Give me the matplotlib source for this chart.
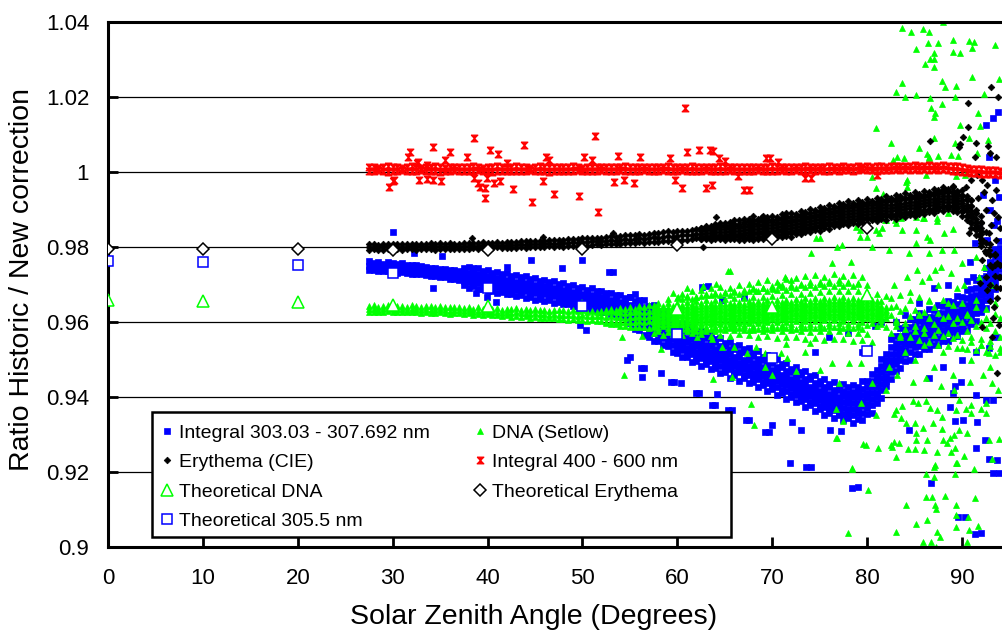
import matplotlib
matplotlib.use("Agg")
import matplotlib.pyplot as plt
from matplotlib.lines import Line2D
from matplotlib.patches import Rectangle
from matplotlib.path import Path
from matplotlib.ticker import FuncFormatter

plt.rcParams["font.family"] = ["Liberation Sans", "DejaVu Sans"]

# half-degree grid of solar zenith angles used for the dense bands
sza = [27.5, 28.0, 28.5, 29.0, 29.5, 30.0, 30.5, 31.0, 31.5, 32.0,
       32.5, 33.0, 33.5, 34.0, 34.5, 35.0, 35.5, 36.0, 36.5, 37.0,
       37.5, 38.0, 38.5, 39.0, 39.5, 40.0, 40.5, 41.0, 41.5, 42.0,
       42.5, 43.0, 43.5, 44.0, 44.5, 45.0, 45.5, 46.0, 46.5, 47.0,
       47.5, 48.0, 48.5, 49.0, 49.5, 50.0, 50.5, 51.0, 51.5, 52.0,
       52.5, 53.0, 53.5, 54.0, 54.5, 55.0, 55.5, 56.0, 56.5, 57.0,
       57.5, 58.0, 58.5, 59.0, 59.5, 60.0, 60.5, 61.0, 61.5, 62.0,
       62.5, 63.0, 63.5, 64.0, 64.5, 65.0, 65.5, 66.0, 66.5, 67.0,
       67.5, 68.0, 68.5, 69.0, 69.5, 70.0, 70.5, 71.0, 71.5, 72.0,
       72.5, 73.0, 73.5, 74.0, 74.5, 75.0, 75.5, 76.0, 76.5, 77.0,
       77.5, 78.0, 78.5, 79.0, 79.5, 80.0, 80.5, 81.0, 81.5, 82.0,
       82.5, 83.0, 83.5, 84.0, 84.5, 85.0, 85.5, 86.0, 86.5, 87.0,
       87.5, 88.0, 88.5, 89.0, 89.5, 90.0, 90.5, 91.0, 91.5, 92.0,
       92.5, 93.0, 93.5, 94.0]

# ---- Integral 303.03 - 307.692 nm (blue squares) ----
blue_mid = [0.9750, 0.9748, 0.9749, 0.9746, 0.9747, 0.9745, 0.9744, 0.9745, 0.9742, 0.9741,
            0.9739, 0.9740, 0.9736, 0.9735, 0.9733, 0.9731, 0.9730, 0.9728, 0.9726, 0.9725,
            0.9722, 0.9720, 0.9719, 0.9716, 0.9712, 0.9711, 0.9708, 0.9706, 0.9704, 0.9702,
            0.9700, 0.9697, 0.9696, 0.9693, 0.9691, 0.9688, 0.9686, 0.9685, 0.9682, 0.9680,
            0.9677, 0.9675, 0.9673, 0.9670, 0.9668, 0.9665, 0.9662, 0.9661, 0.9658, 0.9655,
            0.9652, 0.9649, 0.9646, 0.9642, 0.9639, 0.9635, 0.9628, 0.9620, 0.9612, 0.9605,
            0.9598, 0.9590, 0.9583, 0.9575, 0.9566, 0.9558, 0.9552, 0.9546, 0.9540, 0.9535,
            0.9530, 0.9526, 0.9521, 0.9516, 0.9510, 0.9505, 0.9500, 0.9496, 0.9492, 0.9488,
            0.9484, 0.9479, 0.9474, 0.9469, 0.9464, 0.9459, 0.9454, 0.9448, 0.9443, 0.9437,
            0.9432, 0.9427, 0.9421, 0.9416, 0.9410, 0.9405, 0.9400, 0.9396, 0.9392, 0.9389,
            0.9386, 0.9384, 0.9383, 0.9385, 0.9390, 0.9398, 0.9410, 0.9428, 0.9450, 0.9472,
            0.9500, 0.9516, 0.9530, 0.9542, 0.9552, 0.9561, 0.9568, 0.9574, 0.9580, 0.9585,
            0.9590, 0.9596, 0.9602, 0.9608, 0.9614, 0.9621, 0.9630, 0.9642, 0.9656, 0.9672,
            0.9690, 0.9712, 0.9740, 0.9770]
blue_hi = [0.9762, 0.9758, 0.9761, 0.9756, 0.9759, 0.9757, 0.9754, 0.9757, 0.9752, 0.9753,
           0.9751, 0.9750, 0.9748, 0.9745, 0.9745, 0.9742, 0.9742, 0.9738, 0.9738, 0.9736,
           0.9735, 0.9731, 0.9732, 0.9727, 0.9725, 0.9722, 0.9721, 0.9717, 0.9717, 0.9713,
           0.9713, 0.9708, 0.9709, 0.9704, 0.9704, 0.9699, 0.9699, 0.9696, 0.9695, 0.9691,
           0.9690, 0.9686, 0.9686, 0.9681, 0.9681, 0.9676, 0.9675, 0.9672, 0.9671, 0.9666,
           0.9665, 0.9660, 0.9659, 0.9653, 0.9652, 0.9646, 0.9641, 0.9631, 0.9625, 0.9616,
           0.9612, 0.9602, 0.9597, 0.9587, 0.9580, 0.9570, 0.9566, 0.9558, 0.9554, 0.9547,
           0.9544, 0.9538, 0.9535, 0.9528, 0.9524, 0.9517, 0.9514, 0.9508, 0.9506, 0.9500,
           0.9498, 0.9491, 0.9488, 0.9481, 0.9478, 0.9471, 0.9468, 0.9460, 0.9457, 0.9449,
           0.9446, 0.9439, 0.9435, 0.9428, 0.9424, 0.9417, 0.9414, 0.9408, 0.9406, 0.9401,
           0.9402, 0.9398, 0.9399, 0.9399, 0.9406, 0.9412, 0.9426, 0.9442, 0.9466, 0.9486,
           0.9516, 0.9530, 0.9546, 0.9556, 0.9568, 0.9575, 0.9584, 0.9588, 0.9596, 0.9599,
           0.9606, 0.9610, 0.9618, 0.9622, 0.9630, 0.9635, 0.9646, 0.9656, 0.9672, 0.9686,
           0.9706, 0.9728, 0.9756, 0.9786]
blue_lo = [0.9738, 0.9738, 0.9737, 0.9736, 0.9735, 0.9735, 0.9732, 0.9734, 0.9731, 0.9729,
           0.9728, 0.9728, 0.9726, 0.9723, 0.9723, 0.9719, 0.9720, 0.9716, 0.9716, 0.9713,
           0.9710, 0.9707, 0.9708, 0.9703, 0.9701, 0.9698, 0.9697, 0.9693, 0.9693, 0.9689,
           0.9687, 0.9686, 0.9683, 0.9682, 0.9678, 0.9677, 0.9673, 0.9674, 0.9669, 0.9669,
           0.9665, 0.9662, 0.9662, 0.9657, 0.9657, 0.9652, 0.9651, 0.9648, 0.9647, 0.9642,
           0.9640, 0.9636, 0.9635, 0.9629, 0.9628, 0.9622, 0.9617, 0.9607, 0.9601, 0.9592,
           0.9585, 0.9576, 0.9571, 0.9561, 0.9554, 0.9544, 0.9540, 0.9532, 0.9528, 0.9521,
           0.9518, 0.9512, 0.9509, 0.9502, 0.9498, 0.9491, 0.9488, 0.9482, 0.9480, 0.9474,
           0.9472, 0.9465, 0.9462, 0.9455, 0.9452, 0.9445, 0.9442, 0.9434, 0.9431, 0.9423,
           0.9420, 0.9413, 0.9409, 0.9402, 0.9398, 0.9391, 0.9388, 0.9382, 0.9380, 0.9375,
           0.9371, 0.9368, 0.9369, 0.9369, 0.9376, 0.9382, 0.9396, 0.9412, 0.9436, 0.9456,
           0.9485, 0.9500, 0.9516, 0.9526, 0.9538, 0.9545, 0.9554, 0.9558, 0.9566, 0.9569,
           0.9575, 0.9580, 0.9588, 0.9592, 0.9600, 0.9605, 0.9616, 0.9626, 0.9642, 0.9656,
           0.9675, 0.9696, 0.9725, 0.9754]
# outer rows, from 37.5 deg
blue_hi2 = [0.9745, 0.9748, 0.9743, 0.9744, 0.9736, 0.9739, 0.9732, 0.9734, 0.9729, 0.9731,
            0.9724, 0.9726, 0.9720, 0.9722, 0.9715, 0.9717, 0.9710, 0.9713, 0.9706, 0.9709,
            0.9701, 0.9704, 0.9697, 0.9698, 0.9692, 0.9694, 0.9686, 0.9690, 0.9682, 0.9684,
            0.9677, 0.9678, 0.9671, 0.9672, 0.9664, 0.9666, 0.9656, 0.9650, 0.9640, 0.9636,
            0.9626, 0.9621, 0.9610, 0.9606, 0.9593, 0.9590, 0.9579, 0.9577, 0.9567, 0.9566,
            0.9557, 0.9557, 0.9548, 0.9547, 0.9537, 0.9536, 0.9527, 0.9527, 0.9519, 0.9519,
            0.9511, 0.9510, 0.9501, 0.9500, 0.9491, 0.9490, 0.9481, 0.9479, 0.9470, 0.9468,
            0.9459, 0.9458, 0.9448, 0.9447, 0.9437, 0.9436, 0.9427, 0.9427, 0.9419, 0.9420,
            0.9417, 0.9412, 0.9414, 0.9413, 0.9422, 0.9426, 0.9442, 0.9456, 0.9482, 0.9500,
            0.9534, 0.9544, 0.9564, 0.9570, 0.9586, 0.9589, 0.9602, 0.9602, 0.9614, 0.9613,
            0.9624, 0.9624, 0.9636, 0.9636, 0.9648, 0.9649, 0.9664, 0.9670, 0.9690, 0.9700,
            0.9724, 0.9740, 0.9774, 0.9798]
blue_lo2 = [0.9698, 0.9692, 0.9695, 0.9688, 0.9687, 0.9683, 0.9684, 0.9678, 0.9680, 0.9674,
            0.9676, 0.9669, 0.9672, 0.9665, 0.9667, 0.9660, 0.9662, 0.9657, 0.9658, 0.9652,
            0.9653, 0.9647, 0.9649, 0.9642, 0.9644, 0.9637, 0.9638, 0.9633, 0.9634, 0.9627,
            0.9628, 0.9621, 0.9622, 0.9614, 0.9615, 0.9607, 0.9604, 0.9592, 0.9588, 0.9577,
            0.9572, 0.9562, 0.9557, 0.9547, 0.9540, 0.9530, 0.9526, 0.9518, 0.9514, 0.9507,
            0.9504, 0.9498, 0.9495, 0.9488, 0.9484, 0.9477, 0.9474, 0.9468, 0.9466, 0.9460,
            0.9458, 0.9451, 0.9448, 0.9441, 0.9438, 0.9431, 0.9428, 0.9420, 0.9417, 0.9409,
            0.9406, 0.9399, 0.9395, 0.9388, 0.9384, 0.9377, 0.9374, 0.9368, 0.9366, 0.9361,
            0.9355, 0.9356, 0.9351, 0.9357, 0.9358, 0.9370, 0.9378, 0.9400, 0.9418, 0.9444,
            0.9468, 0.9488, 0.9498, 0.9514, 0.9520, 0.9533, 0.9536, 0.9546, 0.9548, 0.9557,
            0.9558, 0.9568, 0.9570, 0.9580, 0.9582, 0.9593, 0.9598, 0.9614, 0.9624, 0.9644,
            0.9658, 0.9684, 0.9708, 0.9742]
# widest rows, from 55 deg
blue_hi3 = [0.9668, 0.9675, 0.9658, 0.9660, 0.9642,
            0.9645, 0.9628, 0.9630, 0.9615, 0.9612, 0.9598, 0.9598, 0.9585, 0.9586, 0.9575,
            0.9576, 0.9566, 0.9568, 0.9556, 0.9557, 0.9544, 0.9547, 0.9535, 0.9539, 0.9528,
            0.9532, 0.9518, 0.9522, 0.9508, 0.9512, 0.9498, 0.9502, 0.9487, 0.9491, 0.9476,
            0.9480, 0.9466, 0.9469, 0.9455, 0.9458, 0.9444, 0.9448, 0.9435, 0.9440, 0.9428,
            0.9434, 0.9426, 0.9433, 0.9428, 0.9442, 0.9442, 0.9462, 0.9472, 0.9502, 0.9516,
            0.9555, 0.9562, 0.9585, 0.9588, 0.9607, 0.9607, 0.9623, 0.9620, 0.9636, 0.9631,
            0.9645, 0.9642, 0.9657, 0.9654, 0.9669, 0.9667, 0.9685, 0.9688, 0.9711, 0.9718,
            0.9745, 0.9758, 0.9795, 0.9816]
blue_lo3 = [0.9598, 0.9582, 0.9580, 0.9566, 0.9560,
            0.9550, 0.9549, 0.9538, 0.9535, 0.9520, 0.9518, 0.9506, 0.9508, 0.9494, 0.9496,
            0.9484, 0.9488, 0.9474, 0.9478, 0.9463, 0.9467, 0.9452, 0.9458, 0.9444, 0.9450,
            0.9438, 0.9441, 0.9426, 0.9431, 0.9416, 0.9421, 0.9406, 0.9410, 0.9395, 0.9399,
            0.9386, 0.9389, 0.9373, 0.9378, 0.9362, 0.9367, 0.9352, 0.9358, 0.9345, 0.9351,
            0.9340, 0.9343, 0.9332, 0.9342, 0.9338, 0.9356, 0.9358, 0.9385, 0.9398, 0.9430,
            0.9448, 0.9470, 0.9478, 0.9496, 0.9500, 0.9515, 0.9516, 0.9528, 0.9528, 0.9540,
            0.9538, 0.9550, 0.9550, 0.9562, 0.9562, 0.9575, 0.9578, 0.9596, 0.9604, 0.9626,
            0.9638, 0.9666, 0.9688, 0.9724]
blue_scatter = [(30.0, 0.9840), (32.3, 0.9784), (35.2, 0.9776), (34.2, 0.9691), (38.8, 0.9677),
                (39.9, 0.9667), (40.9, 0.9653), (42.1, 0.9747), (44.6, 0.9765), (47.8, 0.9744),
                (50.0, 0.9765), (50.4, 0.9579), (49.7, 0.9592), (53.2, 0.9733), (55.0, 0.9507),
                (56.5, 0.9477), (59.7, 0.9440), (62.3, 0.9411), (64.0, 0.9379), (65.8, 0.9365),
                (67.6, 0.9339), (69.7, 0.9307), (71.9, 0.9224), (74.1, 0.9214), (79.0, 0.9160),
                (63.2, 0.9696), (73.0, 0.9312), (76.1, 0.9312), (77.3, 0.9310), (93.3, 0.9392),
                (93.7, 0.9232), (93.9, 0.9197), (90.1, 0.9339), (90.3, 0.9080), (92.0, 0.9037),
                (73.6, 0.9213), (78.4, 0.9157), (84.4, 0.9312), (86.7, 0.9171), (88.7, 0.9373),
                (89.3, 0.9336), (89.6, 0.9080), (91.4, 0.9035), (91.5, 0.9264), (91.6, 0.9333),
                (92.4, 0.9285), (92.8, 0.9235), (93.3, 0.9197), (89.0, 0.9410), (89.3, 0.9430),
                (89.9, 0.9440), (91.5, 0.9405), (92.5, 0.9392), (54.7, 0.9499), (56.2, 0.9477),
                (56.3, 0.9453), (58.3, 0.9464), (59.3, 0.9440), (60.4, 0.9437), (62.0, 0.9411),
                (63.6, 0.9379), (64.2, 0.9408), (65.3, 0.9365), (67.2, 0.9339), (69.2, 0.9307),
                (70.0, 0.9325), (72.1, 0.9333), (52.8, 0.9733), (62.6, 0.9693), (64.7, 0.9659),
                (67.0, 0.9667), (92.5, 1.0125), (93.3, 1.0145), (93.8, 1.0160), (92.8, 1.0040),
                (93.5, 0.9980), (92.2, 0.9940), (93.0, 0.9900), (93.7, 0.9870), (91.8, 0.9850),
                (92.6, 0.9820), (93.4, 0.9790), (91.4, 0.9810), (90.8, 0.9760), (93.9, 0.9933),
                (93.4, 0.9859), (92.9, 0.9760), (93.6, 0.9720), (91.2, 0.9720), (90.5, 0.9710),
                (88.5, 0.9700), (87.0, 0.9690), (85.5, 0.9650), (84.0, 0.9620), (83.0, 0.9600),
                (86.5, 0.9450), (88.0, 0.9480), (90.0, 0.9500), (91.5, 0.9520), (92.8, 0.9530),
                (93.6, 0.9560), (80.8, 0.9590), (79.5, 0.9520), (81.5, 0.9600), (76.0, 0.9560),
                (78.0, 0.9570), (74.5, 0.9520)]

# ---- DNA (Setlow) (green triangles) ----
green_mid = [0.9634, 0.9636, 0.9633, 0.9635, 0.9637, 0.9634, 0.9636, 0.9635, 0.9633, 0.9636,
             0.9634, 0.9632, 0.9635, 0.9633, 0.9631, 0.9634, 0.9632, 0.9630, 0.9633, 0.9631,
             0.9629, 0.9631, 0.9628, 0.9630, 0.9627, 0.9629, 0.9626, 0.9628, 0.9625, 0.9627,
             0.9624, 0.9626, 0.9623, 0.9625, 0.9622, 0.9623, 0.9621, 0.9622, 0.9620, 0.9621,
             0.9619, 0.9620, 0.9618, 0.9619, 0.9617, 0.9618, 0.9616, 0.9617, 0.9615, 0.9616,
             0.9614, 0.9615, 0.9613, 0.9614, 0.9612, 0.9614, 0.9613, 0.9615, 0.9614, 0.9616,
             0.9615, 0.9617, 0.9616, 0.9618, 0.9617, 0.9619, 0.9618, 0.9620, 0.9619, 0.9621,
             0.9620, 0.9622, 0.9621, 0.9623, 0.9622, 0.9624, 0.9623, 0.9625, 0.9624, 0.9626,
             0.9625, 0.9627, 0.9626, 0.9628, 0.9627, 0.9629, 0.9628, 0.9630, 0.9629, 0.9631,
             0.9630, 0.9632, 0.9631, 0.9633, 0.9632, 0.9634, 0.9633, 0.9635, 0.9634, 0.9635,
             0.9634, 0.9636, 0.9633, 0.9635, 0.9632, 0.9634, 0.9630, 0.9632, 0.9628, 0.9626,
             0.9620, 0.9605, 0.9630, 0.9598, 0.9615, 0.9590, 0.9622, 0.9585, 0.9610, 0.9595,
             0.9580, 0.9612, 0.9570, 0.9598, 0.9565, 0.9600, 0.9575, 0.9560, 0.9590, 0.9555,
             0.9585, 0.9550, 0.9575, 0.9560]
green_hi = [0.9642, 0.9645, 0.9641, 0.9643, 0.9646, 0.9642, 0.9644, 0.9644, 0.9641, 0.9645,
            0.9642, 0.9641, 0.9643, 0.9642, 0.9639, 0.9643, 0.9640, 0.9639, 0.9641, 0.9640,
            0.9637, 0.9640, 0.9636, 0.9639, 0.9635, 0.9638, 0.9634, 0.9637, 0.9633, 0.9636,
            0.9634, 0.9637, 0.9633, 0.9636, 0.9632, 0.9634, 0.9631, 0.9633, 0.9630, 0.9632,
            0.9631, 0.9633, 0.9630, 0.9632, 0.9629, 0.9631, 0.9628, 0.9630, 0.9627, 0.9629,
            0.9627, 0.9629, 0.9626, 0.9628, 0.9625, 0.9628, 0.9626, 0.9629, 0.9627, 0.9630,
            0.9629, 0.9632, 0.9630, 0.9633, 0.9631, 0.9634, 0.9632, 0.9635, 0.9633, 0.9636,
            0.9634, 0.9637, 0.9635, 0.9638, 0.9636, 0.9639, 0.9637, 0.9640, 0.9638, 0.9641,
            0.9639, 0.9642, 0.9640, 0.9643, 0.9641, 0.9644, 0.9642, 0.9645, 0.9643, 0.9646,
            0.9644, 0.9647, 0.9645, 0.9648, 0.9646, 0.9649, 0.9647, 0.9650, 0.9648, 0.9650,
            0.9648, 0.9651, 0.9647, 0.9650, 0.9646, 0.9649, 0.9644, 0.9647, 0.9642, 0.9641,
            0.9665, 0.9642, 0.9672, 0.9638, 0.9660, 0.9632, 0.9668, 0.9628, 0.9655, 0.9640,
            0.9625, 0.9660, 0.9615, 0.9645, 0.9612, 0.9650, 0.9622, 0.9605, 0.9640, 0.9600,
            0.9635, 0.9598, 0.9622, 0.9610]
green_lo = [0.9627, 0.9628, 0.9626, 0.9627, 0.9629, 0.9627, 0.9628, 0.9627, 0.9626, 0.9628,
            0.9626, 0.9625, 0.9627, 0.9625, 0.9624, 0.9626, 0.9625, 0.9622, 0.9625, 0.9623,
            0.9621, 0.9623, 0.9620, 0.9622, 0.9619, 0.9621, 0.9618, 0.9620, 0.9617, 0.9619,
            0.9614, 0.9616, 0.9613, 0.9615, 0.9612, 0.9613, 0.9611, 0.9612, 0.9610, 0.9611,
            0.9607, 0.9608, 0.9606, 0.9607, 0.9605, 0.9606, 0.9604, 0.9605, 0.9603, 0.9604,
            0.9601, 0.9602, 0.9600, 0.9601, 0.9599, 0.9601, 0.9600, 0.9602, 0.9601, 0.9603,
            0.9601, 0.9603, 0.9602, 0.9604, 0.9603, 0.9605, 0.9604, 0.9606, 0.9605, 0.9607,
            0.9606, 0.9608, 0.9607, 0.9609, 0.9608, 0.9610, 0.9609, 0.9611, 0.9610, 0.9612,
            0.9611, 0.9613, 0.9612, 0.9614, 0.9613, 0.9615, 0.9614, 0.9616, 0.9615, 0.9617,
            0.9616, 0.9618, 0.9617, 0.9619, 0.9618, 0.9620, 0.9619, 0.9621, 0.9620, 0.9621,
            0.9620, 0.9622, 0.9619, 0.9621, 0.9618, 0.9620, 0.9616, 0.9618, 0.9614, 0.9612,
            0.9572, 0.9590, 0.9565, 0.9582, 0.9560, 0.9575, 0.9552, 0.9570, 0.9548, 0.9566,
            0.9540, 0.9562, 0.9535, 0.9558, 0.9530, 0.9552, 0.9528, 0.9546, 0.9525, 0.9540,
            0.9520, 0.9536, 0.9512, 0.9530]
# wider rows, 52.5 - 82 deg
green_hi2 = [0.9632, 0.9636, 0.9633, 0.9638, 0.9634, 0.9640, 0.9636, 0.9643, 0.9640, 0.9646,
             0.9645, 0.9650, 0.9643, 0.9651, 0.9644, 0.9652, 0.9645, 0.9654, 0.9647, 0.9655,
             0.9650, 0.9658, 0.9650, 0.9660, 0.9651, 0.9662, 0.9652, 0.9664, 0.9653, 0.9665,
             0.9656, 0.9666, 0.9657, 0.9668, 0.9658, 0.9670, 0.9659, 0.9672, 0.9660, 0.9674,
             0.9662, 0.9676, 0.9663, 0.9678, 0.9664, 0.9680, 0.9665, 0.9682, 0.9666, 0.9682,
             0.9668, 0.9684, 0.9665, 0.9682, 0.9662, 0.9680, 0.9658, 0.9676, 0.9655, 0.9670]
green_lo2 = [0.9597, 0.9594, 0.9594, 0.9590, 0.9590, 0.9587, 0.9588, 0.9586, 0.9587, 0.9584,
             0.9588, 0.9584, 0.9590, 0.9585, 0.9591, 0.9586, 0.9592, 0.9587, 0.9593, 0.9588,
             0.9592, 0.9586, 0.9594, 0.9588, 0.9595, 0.9590, 0.9596, 0.9591, 0.9597, 0.9593,
             0.9597, 0.9590, 0.9598, 0.9591, 0.9599, 0.9592, 0.9600, 0.9593, 0.9601, 0.9594,
             0.9602, 0.9594, 0.9603, 0.9595, 0.9604, 0.9596, 0.9605, 0.9597, 0.9606, 0.9597,
             0.9604, 0.9596, 0.9603, 0.9594, 0.9601, 0.9592, 0.9598, 0.9590, 0.9596, 0.9588]
# widest rows (59 - 80 deg) and fill rows (57.5 - 82 deg), tapered ends
green_hi3 = [0.9662, 0.9678, 0.9665, 0.9675, 0.9670, 0.9684, 0.9668,
             0.9685, 0.9672, 0.9690, 0.9676, 0.9694, 0.9680, 0.9692, 0.9684, 0.9700, 0.9686,
             0.9702, 0.9688, 0.9706, 0.9692, 0.9712, 0.9695, 0.9708, 0.9698, 0.9716, 0.9700,
             0.9718, 0.9702, 0.9722, 0.9706, 0.9725, 0.9708, 0.9720, 0.9710, 0.9728, 0.9712,
             0.9722, 0.9708, 0.9726, 0.9705, 0.9720, 0.9700]
green_lo3 = [0.9570, 0.9576, 0.9566, 0.9574, 0.9568, 0.9578, 0.9565, 0.9575, 0.9570, 0.9577,
             0.9568, 0.9577, 0.9563, 0.9576, 0.9566, 0.9579, 0.9562, 0.9578, 0.9568, 0.9580,
             0.9565, 0.9578, 0.9560, 0.9576, 0.9562, 0.9580, 0.9558, 0.9577, 0.9561, 0.9579,
             0.9560, 0.9576, 0.9556, 0.9574, 0.9558, 0.9577, 0.9552, 0.9575, 0.9556, 0.9576,
             0.9555, 0.9572, 0.9550, 0.9570, 0.9553, 0.9568, 0.9548]
green_fa = [0.9622, 0.9624, 0.9623, 0.9625, 0.9624, 0.9626, 0.9625, 0.9627, 0.9626, 0.9628,
            0.9627, 0.9629, 0.9628, 0.9630, 0.9629, 0.9631, 0.9630, 0.9632, 0.9631, 0.9633,
            0.9632, 0.9634, 0.9633, 0.9635, 0.9634, 0.9636, 0.9635, 0.9637, 0.9636, 0.9638,
            0.9637, 0.9639, 0.9638, 0.9640, 0.9639, 0.9641, 0.9640, 0.9642, 0.9641, 0.9642,
            0.9641, 0.9643, 0.9640, 0.9642, 0.9639, 0.9641, 0.9637, 0.9639, 0.9635, 0.9633]
green_fb = [0.9608, 0.9610, 0.9609, 0.9611, 0.9610, 0.9612, 0.9611, 0.9613, 0.9612, 0.9614,
            0.9613, 0.9615, 0.9614, 0.9616, 0.9615, 0.9617, 0.9616, 0.9618, 0.9617, 0.9619,
            0.9618, 0.9620, 0.9619, 0.9621, 0.9620, 0.9622, 0.9621, 0.9623, 0.9622, 0.9624,
            0.9623, 0.9625, 0.9624, 0.9626, 0.9625, 0.9627, 0.9626, 0.9628, 0.9627, 0.9628,
            0.9627, 0.9629, 0.9626, 0.9628, 0.9625, 0.9627, 0.9623, 0.9625, 0.9621, 0.9619]
green_fc = [0.9637, 0.9640, 0.9637, 0.9641, 0.9638, 0.9642, 0.9639, 0.9643, 0.9640, 0.9644,
            0.9642, 0.9645, 0.9642, 0.9646, 0.9643, 0.9647, 0.9644, 0.9648, 0.9645, 0.9649,
            0.9647, 0.9650, 0.9647, 0.9651, 0.9648, 0.9652, 0.9649, 0.9653, 0.9650, 0.9654,
            0.9652, 0.9655, 0.9652, 0.9656, 0.9653, 0.9657, 0.9654, 0.9658, 0.9655, 0.9658,
            0.9656, 0.9659, 0.9654, 0.9658, 0.9653, 0.9657, 0.9651, 0.9655]
green_fd = [0.9593, 0.9595, 0.9594, 0.9596, 0.9595, 0.9597, 0.9596, 0.9598, 0.9597, 0.9599,
            0.9598, 0.9600, 0.9599, 0.9601, 0.9600, 0.9602, 0.9601, 0.9603, 0.9602, 0.9604,
            0.9603, 0.9605, 0.9604, 0.9606, 0.9605, 0.9607, 0.9606, 0.9608, 0.9607, 0.9609,
            0.9608, 0.9610, 0.9609, 0.9611, 0.9610, 0.9612, 0.9611, 0.9613, 0.9612, 0.9613,
            0.9612, 0.9614, 0.9611, 0.9613, 0.9610, 0.9612, 0.9608, 0.9610, 0.9606]
# upper fill 60.5 - 79 deg, lower fill 59.5 - 79.5 deg
green_fe = [0.9661, 0.9667, 0.9662, 0.9668,
            0.9670, 0.9676, 0.9671, 0.9677, 0.9672, 0.9678, 0.9673, 0.9679, 0.9674, 0.9680,
            0.9682, 0.9690, 0.9683, 0.9691, 0.9684, 0.9692, 0.9685, 0.9693, 0.9686, 0.9694,
            0.9692, 0.9699, 0.9693, 0.9700, 0.9694, 0.9702, 0.9695, 0.9703, 0.9696, 0.9703,
            0.9696, 0.9703, 0.9695, 0.9702]
green_ff = [0.9580, 0.9584, 0.9581, 0.9585, 0.9582, 0.9586,
            0.9580, 0.9584, 0.9581, 0.9585, 0.9582, 0.9586, 0.9583, 0.9587, 0.9584, 0.9588,
            0.9580, 0.9584, 0.9581, 0.9585, 0.9582, 0.9586, 0.9583, 0.9587, 0.9584, 0.9588,
            0.9582, 0.9586, 0.9583, 0.9587, 0.9584, 0.9588, 0.9585, 0.9589, 0.9586, 0.9588,
            0.9584, 0.9588, 0.9583, 0.9587, 0.9582]
green_scatter = [(83.7, 1.0384), (84.6, 1.0373), (85.9, 1.0381), (86.5, 1.0373), (88.0, 1.0400),
                 (86.4, 1.0344), (87.5, 1.0344), (85.1, 1.0328), (87.0, 1.0317), (86.6, 1.0301),
                 (87.1, 1.0301), (86.1, 1.0288), (87.1, 1.0280), (89.0, 1.0352), (89.0, 1.0320),
                 (89.8, 1.0317), (90.7, 1.0349), (91.3, 1.0347), (91.1, 1.0331), (93.5, 1.0339),
                 (91.1, 1.0253), (87.9, 1.0243), (88.2, 1.0227), (89.4, 1.0229), (83.7, 1.0237),
                 (83.0, 1.0213), (84.0, 1.0200), (85.2, 1.0205), (86.6, 1.0197), (87.9, 1.0181),
                 (89.3, 1.0200), (92.3, 1.0208), (93.9, 1.0248), (86.7, 1.0171), (87.2, 1.0157),
                 (87.0, 1.0147), (91.7, 1.0157), (80.9, 1.0117), (89.8, 1.0125), (91.9, 1.0123),
                 (82.5, 1.0077), (85.5, 1.0064), (87.0, 1.0091), (89.3, 1.0077), (90.7, 1.0091),
                 (92.7, 1.0085), (86.3, 1.0048), (86.5, 1.0040), (87.5, 1.0043), (88.8, 1.0045),
                 (89.6, 1.0043), (91.6, 1.0051), (83.2, 1.0040), (83.9, 1.0037), (82.7, 1.0032),
                 (80.5, 0.9987), (86.2, 0.9992), (89.4, 0.9989), (90.3, 0.9992), (84.1, 0.9973),
                 (84.2, 0.9960), (80.9, 0.9957), (81.7, 0.9941), (78.6, 0.9915), (78.8, 0.9853),
                 (79.2, 0.9827), (81.9, 0.9872), (83.0, 0.9864), (83.6, 0.9877), (83.7, 0.9845),
                 (81.3, 0.9837), (85.2, 0.9845), (85.9, 0.9877), (87.4, 0.9869), (88.1, 0.9837),
                 (86.6, 0.9819), (89.0, 0.9848), (84.2, 0.9979), (86.5, 1.0037), (87.4, 0.9877),
                 (86.0, 0.9877), (82.0, 0.9872), (80.9, 0.9845), (79.2, 0.9845), (76.3, 0.9757),
                 (74.1, 0.9784), (74.6, 0.9824), (76.8, 0.9800), (80.5, 0.9800), (82.3, 0.9792),
                 (84.4, 0.9784), (86.5, 0.9784), (87.9, 0.9792), (85.2, 0.9810), (86.3, 0.9827),
                 (89.2, 0.9792), (91.5, 0.9773), (86.5, 0.9720), (87.8, 0.9747), (85.3, 0.9739),
                 (90.0, 0.9757), (92.3, 0.9747), (75.0, 0.9824), (77.4, 0.9805), (78.3, 0.9760),
                 (80.0, 0.9827), (81.6, 0.9851), (82.9, 0.9872), (85.2, 0.9880), (88.5, 0.9890),
                 (65.6, 0.9736), (65.3, 0.9736), (64.1, 0.9701), (61.0, 0.9691), (62.7, 0.9696),
                 (60.1, 0.9667), (68.3, 0.9683), (70.1, 0.9688), (71.3, 0.9720), (72.0, 0.9712),
                 (70.7, 0.9699),
                 (82.5, 0.9640), (83.0, 0.9600), (83.5, 0.9560), (84.0, 0.9520), (84.5, 0.9680),
                 (85.0, 0.9500), (85.5, 0.9620), (86.0, 0.9540), (86.5, 0.9660), (87.0, 0.9480),
                 (87.5, 0.9700), (88.0, 0.9520), (88.5, 0.9650), (89.0, 0.9460), (89.5, 0.9690),
                 (90.0, 0.9530), (90.5, 0.9620), (91.0, 0.9500), (91.5, 0.9660), (92.0, 0.9540),
                 (92.5, 0.9610), (93.0, 0.9480), (93.5, 0.9650), (94.0, 0.9520), (83.2, 0.9460),
                 (84.8, 0.9440), (86.2, 0.9450), (87.8, 0.9430), (89.2, 0.9420), (90.8, 0.9440),
                 (92.2, 0.9460), (93.8, 0.9420), (82.8, 0.9700), (84.2, 0.9720), (85.8, 0.9710),
                 (87.2, 0.9740), (88.8, 0.9730), (90.2, 0.9700), (91.8, 0.9720), (93.2, 0.9700),
                 (75.0, 0.9472), (76.3, 0.9490), (78.1, 0.9490), (79.4, 0.9490), (77.0, 0.9437),
                 (80.5, 0.9437), (82.0, 0.9419), (82.3, 0.9480), (83.0, 0.9365), (84.1, 0.9331),
                 (85.2, 0.9304), (82.6, 0.9267), (79.9, 0.9272), (76.7, 0.9291), (78.4, 0.9211),
                 (86.3, 0.9285), (87.4, 0.9253), (88.4, 0.9277), (89.4, 0.9224), (87.9, 0.9347),
                 (89.7, 0.9392), (90.9, 0.9357), (92.5, 0.9384), (93.2, 0.9437), (92.8, 0.9517),
                 (90.5, 0.9304), (92.8, 0.9285), (78.0, 0.9037), (79.6, 0.9275), (81.1, 0.9264),
                 (82.5, 0.9272), (83.0, 0.9240), (78.4, 0.9208), (80.1, 0.9152), (83.0, 0.9040),
                 (84.1, 0.9112), (84.3, 0.9261), (85.0, 0.9261), (86.0, 0.9259), (85.2, 0.9285),
                 (85.2, 0.9061), (85.9, 0.9013), (86.7, 0.9013), (86.2, 0.9133), (86.8, 0.9133),
                 (86.3, 0.9072), (87.2, 0.9112), (87.3, 0.9101), (87.4, 0.9040), (87.7, 0.9027),
                 (87.3, 0.9000), (87.0, 0.9213), (87.2, 0.9219), (86.2, 0.9195), (87.0, 0.9187),
                 (88.2, 0.9136), (89.4, 0.9112), (89.4, 0.9085), (89.4, 0.9053), (90.6, 0.9080),
                 (90.7, 0.9045), (90.5, 0.9013), (91.7, 0.9056), (91.4, 0.9131), (89.3, 0.9195),
                 (91.3, 0.9208), (88.0, 0.9285), (88.8, 0.9253), (90.2, 0.9243), (89.3, 0.9264),
                 (89.5, 0.9224), (88.7, 0.9291), (89.2, 0.9299), (89.7, 0.9312), (87.9, 0.9315),
                 (82.8, 0.9280), (83.4, 0.9277), (85.0, 0.9331), (86.9, 0.9331), (85.9, 0.9317),
                 (93.2, 0.9235), (93.9, 0.9288), (92.5, 0.9357), (92.0, 0.9368), (90.9, 0.9379),
                 (90.4, 0.9368), (89.4, 0.9365), (87.4, 0.9365), (86.6, 0.9371), (86.2, 0.9389),
                 (85.4, 0.9384), (84.8, 0.9389), (83.7, 0.9376), (82.8, 0.9355), (83.6, 0.9344),
                 (80.9, 0.9352), (79.4, 0.9384), (76.8, 0.9291), (76.7, 0.9368), (77.5, 0.9336),
                 (54.4, 0.9459), (54.2, 0.9560), (56.3, 0.9563), (58.3, 0.9528), (62.1, 0.9560),
                 (63.7, 0.9555), (64.7, 0.9533), (66.0, 0.9533), (67.3, 0.9517), (68.3, 0.9533),
                 (69.2, 0.9517), (70.9, 0.9517), (71.5, 0.9541), (65.8, 0.9453), (63.8, 0.9448),
                 (67.8, 0.9381), (68.1, 0.9325), (69.2, 0.9480), (71.6, 0.9504), (72.5, 0.9470),
                 (73.5, 0.9520), (74.0, 0.9545), (70.0, 0.9460)]

# ---- Erythema (CIE) (black diamonds) ----
black_mid = [0.9800, 0.9801, 0.9799, 0.9800, 0.9802, 0.9800, 0.9801, 0.9799, 0.9801, 0.9802,
             0.9800, 0.9802, 0.9801, 0.9803, 0.9800, 0.9802, 0.9801, 0.9803, 0.9802, 0.9801,
             0.9803, 0.9802, 0.9804, 0.9803, 0.9805, 0.9803, 0.9804, 0.9806, 0.9804, 0.9805,
             0.9806, 0.9805, 0.9807, 0.9806, 0.9808, 0.9807, 0.9809, 0.9808, 0.9810, 0.9809,
             0.9811, 0.9810, 0.9812, 0.9813, 0.9812, 0.9814, 0.9813, 0.9815, 0.9816, 0.9815,
             0.9817, 0.9818, 0.9817, 0.9819, 0.9821, 0.9820, 0.9822, 0.9823, 0.9822, 0.9824,
             0.9826, 0.9825, 0.9827, 0.9829, 0.9828, 0.9830, 0.9832, 0.9831, 0.9833, 0.9835,
             0.9836, 0.9838, 0.9837, 0.9840, 0.9841, 0.9840, 0.9843, 0.9844, 0.9843, 0.9846,
             0.9847, 0.9849, 0.9848, 0.9851, 0.9852, 0.9851, 0.9854, 0.9856, 0.9855, 0.9858,
             0.9861, 0.9864, 0.9866, 0.9869, 0.9871, 0.9874, 0.9876, 0.9879, 0.9882, 0.9885,
             0.9887, 0.9889, 0.9890, 0.9892, 0.9894, 0.9895, 0.9897, 0.9899, 0.9900, 0.9903,
             0.9905, 0.9906, 0.9908, 0.9910, 0.9911, 0.9913, 0.9915, 0.9917, 0.9919, 0.9921,
             0.9924, 0.9927, 0.9928, 0.9927, 0.9924, 0.9917, 0.9905, 0.9888, 0.9868, 0.9843,
             0.9812, 0.9780, 0.9752, 0.9721]
black_hi = [0.9807, 0.9809, 0.9806, 0.9808, 0.9809, 0.9808, 0.9808, 0.9807, 0.9809, 0.9809,
            0.9808, 0.9809, 0.9809, 0.9810, 0.9808, 0.9810, 0.9808, 0.9811, 0.9809, 0.9809,
            0.9811, 0.9810, 0.9812, 0.9810, 0.9813, 0.9811, 0.9812, 0.9813, 0.9812, 0.9813,
            0.9814, 0.9814, 0.9815, 0.9815, 0.9816, 0.9816, 0.9817, 0.9817, 0.9818, 0.9818,
            0.9820, 0.9820, 0.9821, 0.9822, 0.9822, 0.9823, 0.9823, 0.9824, 0.9825, 0.9825,
            0.9827, 0.9829, 0.9827, 0.9830, 0.9831, 0.9831, 0.9832, 0.9834, 0.9832, 0.9835,
            0.9838, 0.9838, 0.9839, 0.9842, 0.9840, 0.9843, 0.9844, 0.9844, 0.9845, 0.9848,
            0.9850, 0.9853, 0.9851, 0.9855, 0.9855, 0.9855, 0.9857, 0.9859, 0.9857, 0.9861,
            0.9861, 0.9864, 0.9862, 0.9866, 0.9866, 0.9866, 0.9868, 0.9871, 0.9869, 0.9873,
            0.9876, 0.9879, 0.9881, 0.9884, 0.9886, 0.9889, 0.9891, 0.9894, 0.9897, 0.9900,
            0.9903, 0.9905, 0.9906, 0.9908, 0.9910, 0.9911, 0.9913, 0.9915, 0.9916, 0.9919,
            0.9922, 0.9923, 0.9925, 0.9927, 0.9928, 0.9930, 0.9932, 0.9934, 0.9936, 0.9938,
            0.9941, 0.9944, 0.9946, 0.9945, 0.9942, 0.9936, 0.9925, 0.9910, 0.9890, 0.9868,
            0.9840, 0.9808, 0.9782, 0.9752]
black_lo = [0.9793, 0.9794, 0.9792, 0.9793, 0.9795, 0.9793, 0.9794, 0.9792, 0.9794, 0.9795,
            0.9793, 0.9795, 0.9794, 0.9796, 0.9793, 0.9795, 0.9794, 0.9796, 0.9795, 0.9794,
            0.9796, 0.9795, 0.9797, 0.9796, 0.9798, 0.9796, 0.9797, 0.9799, 0.9797, 0.9798,
            0.9798, 0.9797, 0.9799, 0.9798, 0.9800, 0.9799, 0.9801, 0.9800, 0.9802, 0.9801,
            0.9802, 0.9801, 0.9803, 0.9804, 0.9803, 0.9805, 0.9804, 0.9806, 0.9807, 0.9806,
            0.9807, 0.9808, 0.9807, 0.9809, 0.9811, 0.9810, 0.9812, 0.9813, 0.9812, 0.9814,
            0.9814, 0.9813, 0.9815, 0.9817, 0.9816, 0.9818, 0.9820, 0.9819, 0.9821, 0.9823,
            0.9822, 0.9824, 0.9823, 0.9826, 0.9827, 0.9826, 0.9829, 0.9830, 0.9829, 0.9832,
            0.9833, 0.9835, 0.9834, 0.9837, 0.9838, 0.9837, 0.9840, 0.9842, 0.9841, 0.9844,
            0.9846, 0.9849, 0.9851, 0.9854, 0.9856, 0.9859, 0.9861, 0.9864, 0.9867, 0.9870,
            0.9871, 0.9873, 0.9874, 0.9876, 0.9878, 0.9879, 0.9881, 0.9883, 0.9884, 0.9887,
            0.9888, 0.9889, 0.9891, 0.9893, 0.9894, 0.9896, 0.9898, 0.9900, 0.9902, 0.9904,
            0.9907, 0.9910, 0.9911, 0.9909, 0.9905, 0.9897, 0.9884, 0.9865, 0.9845, 0.9818,
            0.9785, 0.9752, 0.9722, 0.9690]
# outer and fill rows, 62.5 - 92 deg (band widens gradually from 62.5)
black_hi2 = [0.9852, 0.9856, 0.9856, 0.9861, 0.9863, 0.9864, 0.9868, 0.9871, 0.9871, 0.9876,
             0.9874, 0.9882, 0.9875, 0.9884, 0.9879, 0.9884, 0.9881, 0.9889, 0.9882, 0.9891,
             0.9888, 0.9897, 0.9893, 0.9902, 0.9898, 0.9907, 0.9903, 0.9912, 0.9909, 0.9918,
             0.9914, 0.9922, 0.9917, 0.9925, 0.9921, 0.9928, 0.9924, 0.9932, 0.9927, 0.9936,
             0.9932, 0.9939, 0.9935, 0.9943, 0.9938, 0.9946, 0.9942, 0.9950, 0.9946, 0.9954,
             0.9951, 0.9960, 0.9955, 0.9962, 0.9950, 0.9952, 0.9935, 0.9925, 0.9900, 0.9882]
black_lo2 = [0.9821, 0.9822, 0.9820, 0.9822, 0.9822, 0.9820, 0.9822, 0.9822, 0.9820, 0.9820,
             0.9821, 0.9819, 0.9822, 0.9821, 0.9826, 0.9821, 0.9828, 0.9826, 0.9829, 0.9828,
             0.9835, 0.9834, 0.9840, 0.9839, 0.9845, 0.9844, 0.9850, 0.9849, 0.9856, 0.9855,
             0.9861, 0.9859, 0.9864, 0.9862, 0.9868, 0.9865, 0.9871, 0.9869, 0.9874, 0.9873,
             0.9879, 0.9876, 0.9882, 0.9880, 0.9885, 0.9883, 0.9889, 0.9887, 0.9893, 0.9891,
             0.9898, 0.9897, 0.9902, 0.9896, 0.9894, 0.9882, 0.9872, 0.9850, 0.9832, 0.9803]
black_fa = [0.9844, 0.9846, 0.9845, 0.9848, 0.9849, 0.9848, 0.9851, 0.9852, 0.9851, 0.9854,
            0.9855, 0.9857, 0.9856, 0.9859, 0.9860, 0.9859, 0.9862, 0.9864, 0.9863, 0.9866,
            0.9869, 0.9872, 0.9874, 0.9877, 0.9879, 0.9882, 0.9884, 0.9887, 0.9890, 0.9893,
            0.9895, 0.9897, 0.9898, 0.9900, 0.9902, 0.9903, 0.9905, 0.9907, 0.9908, 0.9911,
            0.9913, 0.9914, 0.9916, 0.9918, 0.9919, 0.9921, 0.9923, 0.9925, 0.9927, 0.9929,
            0.9932, 0.9935, 0.9936, 0.9935, 0.9932, 0.9925, 0.9913, 0.9896, 0.9876, 0.9851]
black_fb = [0.9828, 0.9830, 0.9829, 0.9832, 0.9833, 0.9832, 0.9835, 0.9836, 0.9835, 0.9838,
            0.9839, 0.9841, 0.9840, 0.9843, 0.9844, 0.9843, 0.9846, 0.9848, 0.9847, 0.9850,
            0.9853, 0.9856, 0.9858, 0.9861, 0.9863, 0.9866, 0.9868, 0.9871, 0.9874, 0.9877,
            0.9879, 0.9881, 0.9882, 0.9884, 0.9886, 0.9887, 0.9889, 0.9891, 0.9892, 0.9895,
            0.9897, 0.9898, 0.9900, 0.9902, 0.9903, 0.9905, 0.9907, 0.9909, 0.9911, 0.9913,
            0.9916, 0.9919, 0.9920, 0.9919, 0.9916, 0.9909, 0.9897, 0.9880, 0.9860, 0.9835]
black_fc = [0.9848, 0.9851, 0.9850, 0.9854, 0.9856, 0.9856, 0.9860, 0.9862, 0.9862, 0.9867,
            0.9869, 0.9871, 0.9870, 0.9873, 0.9874, 0.9873, 0.9876, 0.9878, 0.9877, 0.9880,
            0.9883, 0.9886, 0.9888, 0.9891, 0.9893, 0.9896, 0.9898, 0.9901, 0.9904, 0.9907,
            0.9909, 0.9911, 0.9912, 0.9914, 0.9916, 0.9917, 0.9919, 0.9921, 0.9922, 0.9925,
            0.9927, 0.9928, 0.9930, 0.9932, 0.9933, 0.9935, 0.9937, 0.9939, 0.9941, 0.9943,
            0.9946, 0.9949, 0.9950, 0.9949, 0.9946, 0.9939, 0.9927, 0.9910, 0.9890, 0.9865]
black_fd = [0.9826, 0.9827, 0.9826, 0.9828, 0.9829, 0.9827, 0.9829, 0.9829, 0.9827, 0.9825,
            0.9826, 0.9828, 0.9827, 0.9830, 0.9831, 0.9830, 0.9833, 0.9835, 0.9834, 0.9837,
            0.9840, 0.9843, 0.9845, 0.9848, 0.9850, 0.9853, 0.9855, 0.9858, 0.9861, 0.9864,
            0.9866, 0.9868, 0.9869, 0.9871, 0.9873, 0.9874, 0.9876, 0.9878, 0.9879, 0.9882,
            0.9884, 0.9885, 0.9887, 0.9889, 0.9890, 0.9892, 0.9894, 0.9896, 0.9898, 0.9900,
            0.9903, 0.9906, 0.9907, 0.9906, 0.9903, 0.9896, 0.9884, 0.9867, 0.9847, 0.9822]
black_scatter = [(38.4, 0.9824), (45.8, 0.9827), (53.2, 0.9837), (62.7, 0.9800), (64.1, 0.9880),
                 (68.9, 0.9880), (71.4, 0.9891), (86.6, 1.0083), (89.7, 1.0067), (89.8, 1.0075),
                 (90.1, 1.0093), (90.6, 1.0120), (90.6, 1.0184), (91.4, 1.0040), (91.5, 1.0077),
                 (92.7, 1.0069), (93.0, 1.0051), (93.1, 1.0227), (93.6, 1.0040), (93.8, 1.0200),
                 (88.1, 0.9955), (90.4, 0.9960), (90.9, 0.9979), (91.6, 0.9992), (92.1, 0.9979),
                 (92.3, 0.9947), (92.6, 0.9965), (93.2, 0.9925), (93.6, 0.9952), (91.7, 0.9931),
                 (92.5, 0.9899), (93.4, 0.9891), (91.6, 0.9853), (92.8, 0.9837), (93.6, 0.9819),
                 (92.1, 0.9819), (90.7, 0.9837), (91.5, 0.9853), (91.8, 0.9832), (92.0, 0.9811),
                 (92.1, 0.9765), (92.8, 0.9792), (93.2, 0.9747), (93.7, 0.9757), (92.5, 0.9720),
                 (93.6, 0.9693), (93.7, 0.9664), (93.4, 0.9640), (93.9, 0.9592), (93.7, 0.9464),
                 (92.1, 0.9587), (93.0, 0.9700), (92.9, 0.9655), (93.3, 0.9610), (93.9, 0.9720),
                 (93.5, 0.9780), (94.0, 0.9850), (93.8, 0.9880), (93.1, 0.9860), (92.4, 0.9790),
                 (91.2, 0.9880), (90.2, 0.9900), (89.5, 0.9940), (89.0, 0.9960), (88.4, 0.9950),
                 (90.9, 0.9925), (91.9, 0.9705), (92.6, 0.9685), (93.2, 0.9560)]

# ---- Integral 400 - 600 nm (red) ----
red_hi = [1.0012, 1.0014, 1.0011, 1.0013, 1.0015, 1.0012, 1.0014, 1.0011, 1.0013, 1.0015,
          1.0013, 1.0011, 1.0014, 1.0012, 1.0015, 1.0013, 1.0011, 1.0014, 1.0012, 1.0013,
          1.0014, 1.0012, 1.0015, 1.0013, 1.0011, 1.0014, 1.0012, 1.0015, 1.0013, 1.0012,
          1.0013, 1.0015, 1.0012, 1.0014, 1.0011, 1.0013, 1.0015, 1.0012, 1.0014, 1.0013,
          1.0012, 1.0014, 1.0013, 1.0015, 1.0012, 1.0011, 1.0014, 1.0013, 1.0012, 1.0014,
          1.0013, 1.0012, 1.0014, 1.0013, 1.0015, 1.0012, 1.0013, 1.0014, 1.0012, 1.0013,
          1.0014, 1.0012, 1.0013, 1.0015, 1.0013, 1.0012, 1.0014, 1.0013, 1.0015, 1.0012,
          1.0013, 1.0014, 1.0012, 1.0013, 1.0015, 1.0013, 1.0012, 1.0014, 1.0013, 1.0014,
          1.0012, 1.0014, 1.0013, 1.0012, 1.0014, 1.0015, 1.0013, 1.0012, 1.0014, 1.0013,
          1.0014, 1.0013, 1.0015, 1.0013, 1.0012, 1.0014, 1.0013, 1.0015, 1.0014, 1.0013,
          1.0015, 1.0014, 1.0013, 1.0015, 1.0014, 1.0016, 1.0014, 1.0015, 1.0016, 1.0014,
          1.0016, 1.0015, 1.0017, 1.0015, 1.0016, 1.0018, 1.0016, 1.0017, 1.0018, 1.0016,
          1.0017, 1.0018, 1.0016, 1.0017, 1.0015, 1.0013, 1.0011, 1.0009, 1.0008, 1.0007,
          1.0006, 1.0005, 1.0005, 1.0004]
red_lo = [1.0004, 1.0002, 1.0005, 1.0003, 1.0001, 1.0004, 1.0002, 1.0005, 1.0003, 1.0002,
          1.0003, 1.0005, 1.0002, 1.0004, 1.0003, 1.0001, 1.0004, 1.0002, 1.0005, 1.0003,
          1.0002, 1.0004, 1.0003, 1.0005, 1.0002, 1.0003, 1.0001, 1.0004, 1.0002, 1.0004,
          1.0003, 1.0002, 1.0004, 1.0003, 1.0005, 1.0002, 1.0004, 1.0003, 1.0001, 1.0004,
          1.0002, 1.0004, 1.0003, 1.0002, 1.0005, 1.0003, 1.0002, 1.0004, 1.0003, 1.0005,
          1.0003, 1.0004, 1.0002, 1.0005, 1.0003, 1.0004, 1.0002, 1.0003, 1.0005, 1.0003,
          1.0004, 1.0003, 1.0005, 1.0002, 1.0004, 1.0003, 1.0005, 1.0004, 1.0002, 1.0004,
          1.0003, 1.0005, 1.0004, 1.0003, 1.0002, 1.0004, 1.0005, 1.0003, 1.0004, 1.0002,
          1.0004, 1.0003, 1.0005, 1.0004, 1.0003, 1.0002, 1.0004, 1.0005, 1.0003, 1.0004,
          1.0005, 1.0004, 1.0003, 1.0005, 1.0004, 1.0006, 1.0004, 1.0003, 1.0005, 1.0004,
          1.0005, 1.0006, 1.0004, 1.0005, 1.0007, 1.0005, 1.0006, 1.0004, 1.0006, 1.0005,
          1.0006, 1.0007, 1.0005, 1.0007, 1.0006, 1.0008, 1.0006, 1.0007, 1.0005, 1.0007,
          1.0006, 1.0007, 1.0005, 1.0004, 1.0003, 1.0001, 1.0000, 0.9998, 0.9997, 0.9996,
          0.9995, 0.9994, 0.9994, 0.9993]
red_scatter = [(29.6, 0.9960), (30.0, 0.9976), (30.1, 0.9979), (31.6, 1.0040), (31.8, 1.0053),
               (32.6, 1.0024), (32.7, 1.0027), (32.8, 0.9979), (33.6, 1.0019), (33.6, 0.9981),
               (34.2, 1.0067), (34.3, 0.9979), (35.1, 0.9976), (35.5, 1.0032), (36.0, 1.0053),
               (37.8, 1.0040), (38.6, 1.0091), (38.6, 0.9984), (39.0, 0.9971), (39.2, 0.9960),
               (39.7, 0.9957), (39.7, 0.9931), (39.9, 0.9984), (40.3, 1.0060), (40.7, 0.9971),
               (41.1, 1.0048), (41.3, 0.9976), (42.0, 1.0024), (42.7, 0.9955), (43.8, 1.0072),
               (44.7, 0.9920), (45.8, 0.9976), (46.2, 1.0040), (46.5, 1.0032), (47.0, 0.9941),
               (49.6, 0.9936), (50.2, 1.0040), (51.0, 1.0032), (51.3, 1.0096), (51.6, 0.9893),
               (53.3, 0.9973), (53.7, 1.0043), (54.4, 0.9979), (55.4, 0.9971), (56.1, 1.0040),
               (59.2, 1.0037), (59.8, 0.9979), (60.5, 0.9957), (61.0, 1.0053), (60.8, 1.0171),
               (62.3, 1.0059), (63.0, 0.9957), (63.4, 1.0059), (63.6, 0.9965), (63.8, 1.0056),
               (64.4, 1.0037), (65.0, 1.0029), (66.4, 0.9989), (67.0, 0.9952), (67.6, 0.9952),
               (69.3, 1.0037), (69.8, 1.0037), (70.6, 1.0027), (73.5, 0.9984), (74.1, 0.9984),
               (81.0, 0.9992)]

# ---- theoretical values ----
theo_sza = [0, 10, 20, 30, 40, 50, 60, 70, 80]
theo_dna = [0.9659, 0.9656, 0.9654, 0.9645, 0.9644, 0.9644, 0.9634, 0.9641, 0.9672]
theo_ery = [0.9794, 0.9794, 0.9794, 0.9793, 0.9793, 0.9795, 0.9805, 0.9821, 0.9851]
theo_305 = [0.9763, 0.9759, 0.9751, 0.9731, 0.9691, 0.9643, 0.9568, 0.9505, 0.9523]

y_ticks = [0.90, 0.92, 0.94, 0.96, 0.98, 1.00, 1.02, 1.04]
x_ticks = [0, 10, 20, 30, 40, 50, 60, 70, 80, 90]


def band(start, vals):
    i0 = sza.index(start)
    n = min(len(vals), len(sza) - i0)
    return sza[i0:i0 + n], vals[:n]


fig = plt.figure(figsize=(10.02, 6.32), dpi=100)
ax = fig.add_axes([108 / 1002, 85 / 632, 948.9 / 1002, 525 / 632])

BLUE, GREEN, RED = "#0000ff", "#00ff00", "#ff0000"
hourglass = Path([(-1, 1), (1, 1), (-1, -1), (1, -1), (-1, 1)])

blue_kw = dict(ls="none", marker="s", ms=4.2, mfc=BLUE, mec=BLUE, mew=0.5)
green_kw = dict(ls="none", marker="^", ms=4.9, mfc=GREEN, mec=GREEN, mew=0.5)
black_kw = dict(ls="none", marker="D", ms=3.4, mfc="black", mec="black", mew=0.5)
red_kw = dict(ls="none", marker=hourglass, ms=4.8, mfc=RED, mec=RED, mew=0.9)

for start, vals in [(27.5, blue_mid), (27.5, blue_hi), (27.5, blue_lo), (37.5, blue_hi2),
                    (37.5, blue_lo2), (55.0, blue_hi3), (55.0, blue_lo3)]:
    ax.plot(*band(start, vals), **blue_kw)
ax.plot([p[0] for p in blue_scatter], [p[1] for p in blue_scatter], **blue_kw)

for start, vals in [(27.5, green_mid), (27.5, green_hi), (27.5, green_lo), (52.5, green_hi2),
                    (52.5, green_lo2), (59.0, green_hi3), (57.5, green_lo3), (57.5, green_fa),
                    (57.5, green_fb), (57.5, green_fc), (57.5, green_fd), (60.5, green_fe),
                    (59.5, green_ff)]:
    ax.plot(*band(start, vals), **green_kw)
ax.plot([p[0] for p in green_scatter], [p[1] for p in green_scatter], **green_kw)

for start, vals in [(27.5, black_mid), (27.5, black_hi), (27.5, black_lo),
                    (62.5, black_hi2), (62.5, black_lo2), (62.5, black_fa), (62.5, black_fb),
                    (62.5, black_fc), (62.5, black_fd)]:
    ax.plot(*band(start, vals), **black_kw)
ax.plot([p[0] for p in black_scatter], [p[1] for p in black_scatter], **black_kw)

for start, vals in [(27.5, red_hi), (27.5, red_lo)]:
    ax.plot(*band(start, vals), **red_kw)
ax.plot([p[0] for p in red_scatter], [p[1] for p in red_scatter], **red_kw)

ax.plot(theo_sza, theo_dna, ls="none", marker="^", ms=9, mfc="white", mec=GREEN, mew=1.1, zorder=3)
ax.plot(theo_sza, theo_ery, ls="none", marker="D", ms=6.4, mfc="white", mec="black", mew=1.1, zorder=3)
ax.plot(theo_sza, theo_305, ls="none", marker="s", ms=7.2, mfc="white", mec=BLUE, mew=1.1, zorder=3)

ax.set_xlim(0, 100)
ax.set_ylim(0.9, 1.04)
ax.set_xticks(x_ticks)
ax.set_yticks(y_ticks)
ax.yaxis.set_major_formatter(FuncFormatter(lambda v, p: f"{v:g}"))
ax.set_axisbelow(True)
ax.yaxis.grid(True, color="black", lw=0.9)
for s in ax.spines.values():
    s.set_linewidth(2.2)
ax.tick_params(direction="in", length=7, width=2, labelsize=16)
ax.tick_params(axis="y", pad=13.5)
ax.tick_params(axis="x", pad=15)

ax.set_xlabel("Solar Zenith Angle (Degrees)", fontsize=20.5)
ax.xaxis.label.set_va("center")
ax.xaxis.set_label_coords((533.5 - 108) / 948.9, (547 - 617) / 525)
ax.set_ylabel("Ratio Historic / New correction", fontsize=20.5)
ax.yaxis.label.set_va("center")
ax.yaxis.label.set_ha("center")
ax.yaxis.set_label_coords((22 - 108) / 948.9, (547 - 279.5) / 525)

# legend box (Excel style) + entries
ax.add_patch(Rectangle((152 / 1002, 1 - 537 / 632), (731 - 152) / 1002, 125 / 632,
                       transform=fig.transFigure, facecolor="white", edgecolor="black",
                       lw=1.8, zorder=4.5, clip_on=False))
handles = [
    Line2D([], [], **blue_kw),
    Line2D([], [], **black_kw),
    Line2D([], [], ls="none", marker="^", ms=9, mfc="white", mec=GREEN, mew=1.1),
    Line2D([], [], ls="none", marker="s", ms=7.2, mfc="white", mec=BLUE, mew=1.1),
    Line2D([], [], **green_kw),
    Line2D([], [], **red_kw),
    Line2D([], [], ls="none", marker="D", ms=6.4, mfc="white", mec="black", mew=1.1),
]
labels = ["Integral 303.03 - 307.692 nm", "Erythema (CIE)", "Theoretical DNA",
          "Theoretical 305.5 nm", "DNA (Setlow)", "Integral 400 - 600 nm",
          "Theoretical Erythema"]
leg = ax.legend(handles, labels, loc="upper left", ncol=2, frameon=False, fontsize=14,
                bbox_to_anchor=(161 / 1002, 1 - 424 / 632), bbox_transform=fig.transFigure,
                borderpad=0, borderaxespad=0, handlelength=0.6, handletextpad=0.32,
                columnspacing=2.27, labelspacing=0.61, numpoints=1)
leg.set_zorder(5)

fig.savefig("out.png", dpi=100)
